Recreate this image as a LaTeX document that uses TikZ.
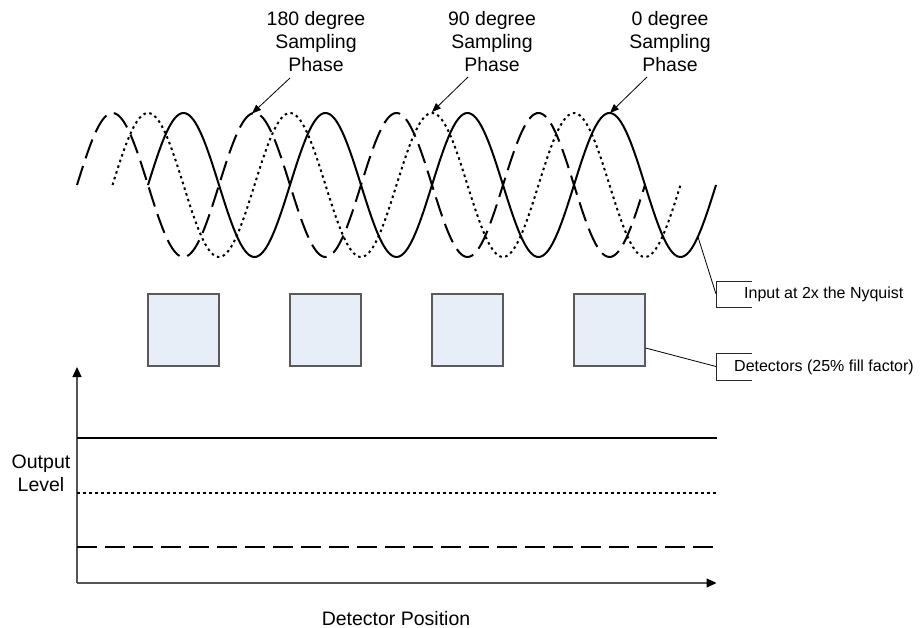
\documentclass[tikz,border=0pt]{standalone}
\usepackage{fontspec}
\setmainfont{Liberation Sans}
\usetikzlibrary{arrows.meta}
\definecolor{detfill}{HTML}{E8EEF8}
\definecolor{detborder}{HTML}{5A5A5A}
\definecolor{axisgray}{HTML}{555555}
\begin{document}
\begin{tikzpicture}[x=1pt,y=-1pt,
  wave/.style={line width=2pt, black},
  solidwave/.style={wave},
  dotwave/.style={wave, dash pattern=on 2.5pt off 3.5pt},
  dashwave/.style={wave, dash pattern=on 20pt off 8pt},
  det/.style={draw=detborder, fill=detfill, line width=1.2pt, minimum width=71pt, minimum height=72pt, inner sep=0pt},
  lbl/.style={font=\fontsize{19.5}{23}\selectfont, align=center, inner sep=0pt},
  call/.style={font=\fontsize{16}{19}\selectfont, inner sep=0pt},
  pointer/.style={-{Triangle[length=9pt,width=7pt]}, line width=0.8pt},
  leader/.style={line width=0.8pt},
  bracket/.style={draw=black!85, line width=0.9pt},
  axis/.style={draw=axisgray, line width=1.2pt, -{Triangle[length=10pt,width=9pt,color=black]}},
  level/.style={line width=2pt, black}
]
\useasboundingbox (0,0) rectangle (924,628);

% waves
\draw[dashwave] plot[domain=77:645, samples=300] (\x,{185-72*sin((\x-77)*2.535211)});
\draw[dotwave] plot[domain=112.5:680.5, samples=300] (\x,{185-72*sin((\x-112.5)*2.535211)});
\draw[solidwave] plot[domain=148:716, samples=300] (\x,{185-72*sin((\x-148)*2.535211)});

% phase labels
\node[lbl, anchor=north] (l180) at (316,11) {180 degree\\Sampling\\Phase};
\node[lbl, anchor=north] (l90) at (492,11) {90 degree\\Sampling\\Phase};
\node[lbl, anchor=north] (l0) at (670,11) {0 degree\\Sampling\\Phase};

\coordinate (s180) at (290,78);   \coordinate (t180) at (252,113.5);
\coordinate (s90) at (468,77);    \coordinate (t90) at (432,112);
\coordinate (s0) at (647,77);     \coordinate (t0) at (610,113);
\draw[pointer] (s180) -- (t180);
\draw[pointer] (s90) -- (t90);
\draw[pointer] (s0) -- (t0);

% detectors
\node[det] (d1) at (183.5,330) {};
\node[det] (d2) at (325.5,330) {};
\node[det] (d3) at (467.5,330) {};
\node[det] (d4) at (609.5,330) {};

% callouts
\node[call, anchor=base west] (incall) at (744,299) {Input at 2x the Nyquist};
\node[call, anchor=base west] (detcall) at (734,371) {Detectors (25\% fill factor)};
\draw[bracket] (752,281) -| (716,307) -- (752,307);
\draw[bracket] (752,353) -| (716,380) -- (752,380);
\coordinate (inpt) at (698,237);
\coordinate (inbr) at (716,294);
\coordinate (detbr) at (716,366.5);
\draw[leader] (inpt) -- (inbr);
\draw[leader] ([yshift=-18pt]d4.east) -- (detbr);

% axes
\coordinate (origin) at (77,583);
\coordinate (ytip) at (77,367);
\coordinate (xtip) at (716.5,583);
\draw[axis] (origin) -- (ytip);
\draw[axis] (origin) -- (xtip);

% output levels
\coordinate (lv0a) at (77,438); \coordinate (lv0b) at (717,438);
\coordinate (lv90a) at (77,493); \coordinate (lv90b) at (717,493);
\coordinate (lv180a) at (77,547); \coordinate (lv180b) at (717,547);
\draw[level] (lv0a) -- (lv0b);
\draw[level, dash pattern=on 2.5pt off 3.5pt] (lv90a) -- (lv90b);
\draw[level, dash pattern=on 20pt off 8pt] (lv180a) -- (lv180b);

\node[lbl, anchor=north] (ylab) at (41,454.5) {Output\\Level};
\node[lbl, anchor=base] (xlab) at (396,625) {Detector Position};
\end{tikzpicture}
\end{document}
